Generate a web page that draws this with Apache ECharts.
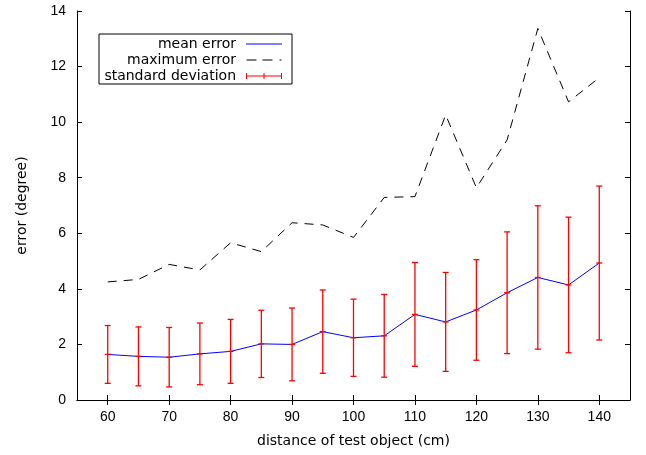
<!DOCTYPE html>
<html>
<head>
<meta charset="utf-8">
<script src="https://cdn.jsdelivr.net/npm/echarts@6/dist/echarts.min.js"></script>
<style>
  html, body { margin: 0; padding: 0; background: #fff; }
  #Chart { width: 646px; height: 455px; }
</style>
</head>
<body>
<div id="Chart"></div>
<script>
var distances = [60, 65, 70, 75, 80, 85, 90, 95, 100, 105, 110, 115, 120, 125, 130, 135, 140];
var meanError = [1.64, 1.57, 1.54, 1.66, 1.75, 2.02, 2.00, 2.46, 2.24, 2.31, 3.08, 2.81, 3.24, 3.86, 4.41, 4.14, 4.93];
var maxError = [4.25, 4.34, 4.88, 4.68, 5.66, 5.34, 6.38, 6.30, 5.85, 7.29, 7.32, 10.26, 7.64, 9.36, 13.37, 10.73, 11.60];
var stdDev = [1.04, 1.06, 1.07, 1.11, 1.15, 1.21, 1.31, 1.50, 1.39, 1.49, 1.87, 1.78, 1.81, 2.19, 2.58, 2.44, 2.77];
var xTicks = [60, 70, 80, 90, 100, 110, 120, 130, 140];

var NUM_FONT = 'Liberation Sans';
var TXT_FONT = 'DejaVu Sans';

function pairs(ys) {
  return distances.map(function (d, i) { return [d, ys[i]]; });
}

var errData = distances.map(function (d, i) {
  return [d, meanError[i] - stdDev[i], meanError[i] + stdDev[i], meanError[i]];
});

function renderErrorBar(params, api) {
  var x = api.value(0);
  var top = api.coord([x, api.value(2)]);
  var bot = api.coord([x, api.value(1)]);
  var mid = api.coord([x, api.value(3)]);
  var cap = 3;
  var st = { stroke: '#ff0000', lineWidth: 1.3 };
  return {
    type: 'group',
    children: [
      { type: 'line', shape: { x1: top[0], y1: top[1], x2: bot[0], y2: bot[1] }, style: st },
      { type: 'line', shape: { x1: top[0] - cap, y1: top[1], x2: top[0] + cap, y2: top[1] }, style: st },
      { type: 'line', shape: { x1: bot[0] - cap, y1: bot[1], x2: bot[0] + cap, y2: bot[1] }, style: st },
      { type: 'line', shape: { x1: mid[0] - cap, y1: mid[1], x2: mid[0] + cap, y2: mid[1] }, style: st }
    ]
  };
}

function xAx(pos, showLabel) {
  return {
    type: 'value',
    position: pos,
    min: 55,
    max: 145,
    name: showLabel ? 'distance of test object (cm)' : '',
    nameLocation: 'middle',
    nameGap: 34,
    nameTextStyle: { color: '#000', fontFamily: TXT_FONT, fontSize: 14 },
    axisLine: { show: true, lineStyle: { color: '#000', width: 1 } },
    axisTick: { show: true, inside: true, length: 5, customValues: xTicks, lineStyle: { color: '#000' } },
    axisLabel: { show: showLabel, customValues: xTicks, margin: 10, color: '#000', fontFamily: NUM_FONT, fontSize: 14 },
    splitLine: { show: false }
  };
}

function yAx(pos, showLabel) {
  return {
    type: 'value',
    position: pos,
    min: 0,
    max: 14,
    interval: 2,
    name: showLabel ? 'error (degree)' : '',
    nameLocation: 'middle',
    nameGap: 48,
    nameRotate: 90,
    nameTextStyle: { color: '#000', fontFamily: TXT_FONT, fontSize: 14 },
    axisLine: { show: true, lineStyle: { color: '#000', width: 1 } },
    axisTick: { show: true, inside: true, length: 5, lineStyle: { color: '#000' } },
    axisLabel: { show: showLabel, margin: 11, color: '#000', fontFamily: NUM_FONT, fontSize: 14 },
    splitLine: { show: false }
  };
}

var myChart = echarts.init(document.getElementById('Chart'));
var option = {
  animation: false,
  grid: { left: 77, right: 16, top: 11, bottom: 55 },
  legend: {
    left: 99,
    top: 34,
    orient: 'vertical',
    align: 'right',
    itemWidth: 36,
    itemHeight: 10,
    itemGap: 2,
    padding: [3, 10, 1, 3],
    borderColor: '#000',
    borderWidth: 1,
    textStyle: {
      color: '#000', fontFamily: TXT_FONT, fontSize: 14, lineHeight: 14,
      width: 134, align: 'right', padding: [0, 5, 0, 0]
    },
    data: [{
      name: 'mean error',
      icon: 'path://M0,4.4h36v1.2h-36Z',
      itemStyle: { color: '#0000ff' }
    }, {
      name: 'maximum error',
      icon: 'path://M0,4.5h10v1h-10Z M16,4.5h10v1h-10Z M33,4.5h2v1h-2Z M0,0h0.01v10h-0.01Z',
      itemStyle: { color: '#000' }
    }, {
      name: 'standard deviation',
      icon: 'path://M0,4.5h36v1h-36Z M0,2h1v6h-1Z M35,2h1v6h-1Z M17.5,2h1v6h-1Z',
      itemStyle: { color: '#ff0000' }
    }]
  },
  xAxis: [xAx('bottom', true), xAx('top', false)],
  yAxis: [yAx('left', true), yAx('right', false)],
  series: [{
    name: 'mean error',
    type: 'line',
    data: pairs(meanError),
    symbol: 'none',
    lineStyle: { color: '#0000ff', width: 1 },
    itemStyle: { color: '#0000ff' },
    z: 3
  }, {
    name: 'maximum error',
    type: 'line',
    data: pairs(maxError),
    symbol: 'none',
    lineStyle: { color: '#000', width: 1, type: [9, 7] },
    itemStyle: { color: '#000' }
  }, {
    name: 'standard deviation',
    type: 'custom',
    data: errData,
    renderItem: renderErrorBar,
    itemStyle: { color: '#ff0000' },
    encode: { x: 0, y: [1, 2, 3] },
    z: 4
  }]
};
myChart.setOption(option);
</script>
</body>
</html>
